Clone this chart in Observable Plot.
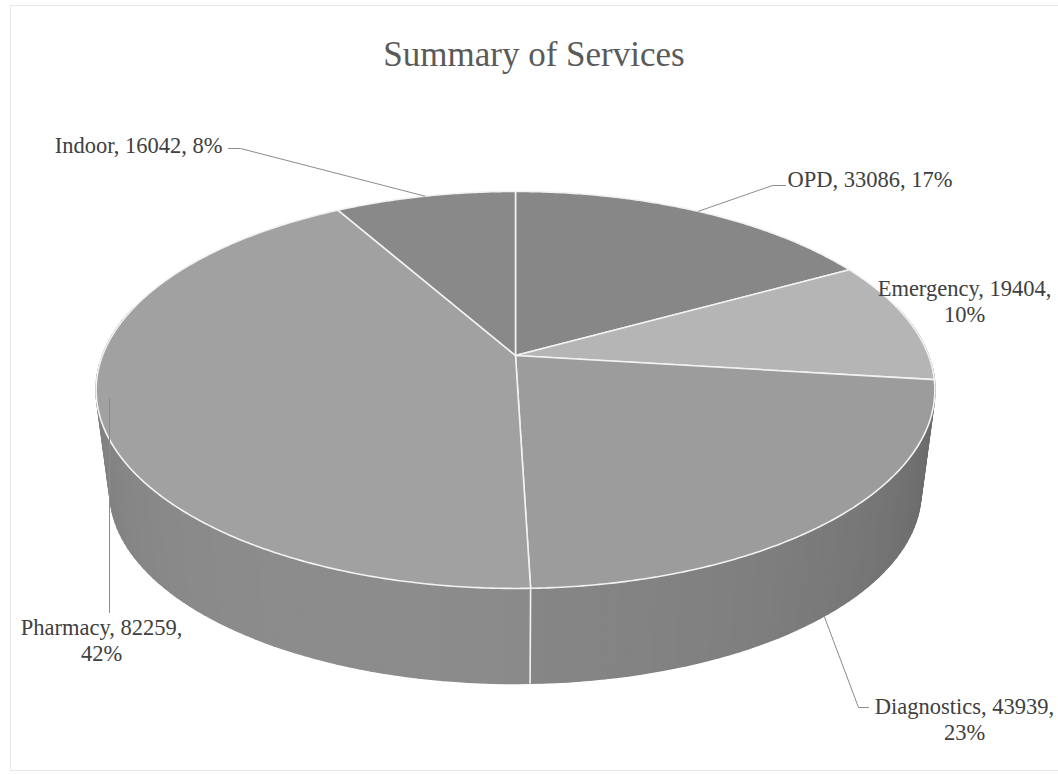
<!DOCTYPE html>
<html><head><meta charset="utf-8">
<script src="https://cdn.jsdelivr.net/npm/d3@7"></script>
<script src="https://cdn.jsdelivr.net/npm/@observablehq/plot@0.6"></script>
<style>
body{margin:0;background:#fff;}
#wrap{position:relative;width:1058px;height:774px;overflow:hidden;background:#fff;}
#frame{position:absolute;left:10px;top:5px;width:1100px;height:766px;border:1px solid #e8e8e8;box-sizing:border-box;pointer-events:none}
#title{height:90px;box-sizing:border-box;padding-top:35px;padding-left:10px;text-align:center;font-family:"Liberation Serif","Times New Roman",serif;font-size:35px;line-height:40px;color:#5a5a5a;}
#chart svg{display:block}
</style>
</head><body>
<div id="wrap"><div id="frame"></div><div id="title">Summary of Services</div><div id="chart"></div></div>
<script>
// ---- data ----
const categories = ["OPD", "Emergency", "Diagnostics", "Pharmacy", "Indoor"];
const values = [33086, 19404, 43939, 82259, 16042];
const percents = ["17%", "10%", "23%", "42%", "8%"];

// ---- styles ----
const topColors = ["#878787", "#b5b5b5", "#9c9c9c", "#a1a1a1", "#898989"];

// ---- geometry (page pixels) ----
const CX = 515, CY = 355, RX = 413, RY = 192.5, P = 0.1736;
const VX = 515, VY = 3467, SIG = 0.967;
const TAU = Math.PI * 2, DEG = Math.PI / 180;

function topPt(a) {
  const x = Math.sin(a), t = -Math.cos(a), s = 1 / (1 - P * t);
  return [CX + RX * x * s, CY + RY * t * s];
}
function botPt(a) {
  const [x, y] = topPt(a);
  return [VX + SIG * (x - VX), VY + SIG * (y - VY)];
}

const total = d3.sum(values);
let acc = 0;
const slices = categories.map((c, i) => {
  const a0 = acc / total * TAU; acc += values[i];
  const a1 = acc / total * TAU;
  return {key: c, i, a0, a1, mid: (a0 + a1) / 2, color: topColors[i], grey: d3.rgb(topColors[i]).r};
});

// top faces
const topPoints = [];
for (const s of slices) {
  topPoints.push({key: s.key, x: CX, y: CY, fill: s.color});
  const n = Math.max(2, Math.ceil((s.a1 - s.a0) / (0.5 * DEG)));
  for (let k = 0; k <= n; k++) {
    const a = s.a0 + (s.a1 - s.a0) * k / n;
    const [x, y] = topPt(a);
    topPoints.push({key: s.key, x, y, fill: s.color});
  }
}

// walls (front part), shaded segments
const wallSegs = [];
for (const s of slices) {
  const lo = Math.max(s.a0, 75 * DEG), hi = Math.min(s.a1, 285 * DEG);
  if (lo >= hi) continue;
  const n = Math.max(1, Math.ceil((hi - lo) / (1.5 * DEG)));
  for (let k = 0; k < n; k++) {
    const a = lo + (hi - lo) * k / n, b = lo + (hi - lo) * (k + 1) / n;
    const m = (a + b) / 2;
    const f = 0.70 + 0.17 * Math.cos(m - 200 * DEG);
    const g = Math.max(0, Math.min(255, Math.round(s.grey * f)));
    const col = d3.rgb(g, g, g).formatHex();
    const pts = [topPt(a), topPt(b), botPt(b), botPt(a)];
    wallSegs.push({id: s.key + k, t: -Math.cos(m), col, pts});
  }
}
wallSegs.sort((p, q) => p.t - q.t);
const wallPoints = wallSegs.flatMap(w => w.pts.map(([x, y]) => ({id: w.id, x, y, fill: w.col})));

// boundary lines on front wall
const edgePoints = [];
for (const s of slices) {
  if (-Math.cos(s.a0) > 0.3) {
    const [x1, y1] = topPt(s.a0), [x2, y2] = botPt(s.a0);
    edgePoints.push({key: s.key, x: x1, y: y1}, {key: s.key, x: x2, y: y2});
  }
}

// ---- label layout (page pixels) ----
const labelLayout = {
  OPD:         {x: 787, y: 178, anchor: "start",  wrap: false, from: "top",    leader: [[772, 185], [785, 185]]},
  Emergency:   {x: 964, y: 300, anchor: "middle", wrap: true,  from: null,     leader: null},
  Diagnostics: {x: 964, y: 718, anchor: "middle", wrap: true,  from: "bottom", leader: [[858, 707], [868, 707]]},
  Pharmacy:    {x: 101, y: 639, anchor: "middle", wrap: true,  from: "vertical", leader: [[109, 612]]},
  Indoor:      {x: 222, y: 144, anchor: "end",    wrap: false, from: "top",    leader: [[240, 148], [228, 148]]}
};

const labels = slices.map(s => {
  const L = labelLayout[s.key];
  const text = L.wrap ? `${s.key}, ${values[s.i]},\n${percents[s.i]}` : `${s.key}, ${values[s.i]}, ${percents[s.i]}`;
  return {key: s.key, x: L.x, y: L.y, text, anchor: L.anchor};
});

const leaderPoints = [];
for (const s of slices) {
  const L = labelLayout[s.key];
  if (!L.leader) continue;
  if (L.from === "vertical") {
    const [, ay] = topPt(s.mid);
    leaderPoints.push({key: s.key, x: L.leader[0][0], y: ay - 12}, {key: s.key, x: L.leader[0][0], y: L.leader[0][1]});
  } else {
    const [ax, ay] = L.from === "bottom" ? botPt(s.mid) : topPt(s.mid);
    leaderPoints.push({key: s.key, x: ax, y: ay});
    for (const [x, y] of L.leader) leaderPoints.push({key: s.key, x, y});
  }
}

const font = "'Liberation Serif', 'Times New Roman', serif";

const chart = Plot.plot({
  width: 1058,
  height: 684,
  margin: 0,
  style: {background: "transparent"},
  x: {domain: [0, 1058], range: [0, 1058], axis: null},
  y: {domain: [90, 774], range: [0, 684], axis: null},
  color: {type: "identity"},
  marks: [
    Plot.line(wallPoints, {x: "x", y: "y", z: "id", fill: "fill", stroke: "fill", strokeWidth: 1.6, curve: "linear-closed"}),
    Plot.line(edgePoints, {x: "x", y: "y", z: "key", stroke: "#f2f2f2", strokeWidth: 1.6}),
    Plot.line(topPoints, {x: "x", y: "y", z: "key", fill: "fill", stroke: "#f2f2f2", strokeWidth: 1.6, strokeLinejoin: "round", curve: "linear-closed"}),
    Plot.line(leaderPoints, {x: "x", y: "y", z: "key", stroke: "#8c8c8c", strokeWidth: 1}),
    ...labels.map(l => Plot.text([l], {x: "x", y: "y", text: "text", textAnchor: l.anchor, lineAnchor: "middle", lineHeight: 1.15, fontSize: 22.5, fontFamily: font, fill: "#404040"}))
  ]
});
document.getElementById("chart").appendChild(chart);
</script>
</body></html>
